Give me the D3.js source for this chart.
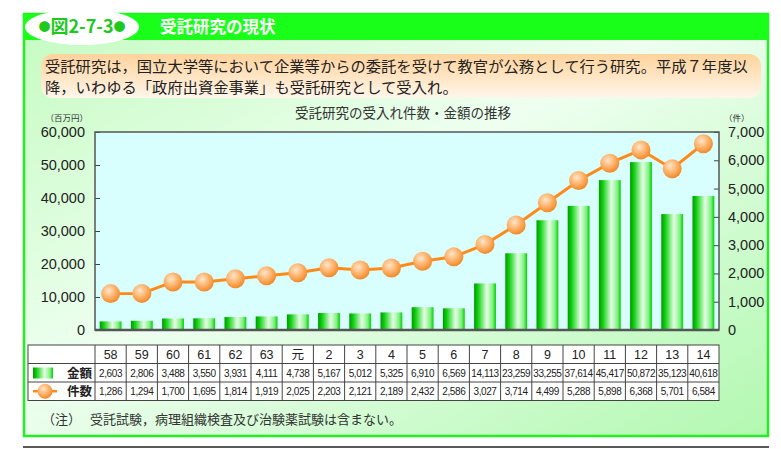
<!DOCTYPE html>
<html>
<head>
<meta charset="utf-8">
<script src="https://cdn.jsdelivr.net/npm/d3@7"></script>
<style>
  body { margin: 0; background: #fff; }
  svg { display: block; }
  text { font-family: "Liberation Sans", Arial, sans-serif; }
  .jp { font-family: "Noto Sans CJK JP", sans-serif; }
</style>
</head>
<body>
<div id="chart"></div>
<script>
// data
var years = ["58","59","60","61","62","63","元","2","3","4","5","6","7","8","9","10","11","12","13","14"];
var amounts = [2603,2806,3488,3550,3931,4111,4738,5167,5012,5325,6910,6569,14113,23259,33255,37614,45417,50872,35123,40618];
var counts = [1286,1294,1700,1695,1814,1919,2025,2203,2121,2189,2432,2586,3027,3714,4499,5288,5898,6368,5701,6584];
var leftTicks = [0,10000,20000,30000,40000,50000,60000];
var rightTicks = [0,1000,2000,3000,4000,5000,6000,7000];

var W = 781, H = 449;
var plot = {l: 95, r: 719, t: 132, b: 330};

var svg = d3.select("#chart").append("svg")
    .attr("width", W)
    .attr("height", H);

var defs = svg.append("defs");

// panel background
var bg = defs.append("linearGradient").attr("id", "panelbg")
    .attr("x1", "0%").attr("y1", "0%").attr("x2", "100%").attr("y2", "100%");
bg.append("stop").attr("offset", "0%").attr("stop-color", "#c4fbc0");
bg.append("stop").attr("offset", "45%").attr("stop-color", "#eefff0");
bg.append("stop").attr("offset", "100%").attr("stop-color", "#b2f8b0");

// description box
var db = defs.append("linearGradient").attr("id", "descbg")
    .attr("x1", "0%").attr("y1", "0%").attr("x2", "0%").attr("y2", "100%");
db.append("stop").attr("offset", "0%").attr("stop-color", "#ffd39c");
db.append("stop").attr("offset", "100%").attr("stop-color", "#fff6ea");

// bars - cylinder look
var bar = defs.append("linearGradient").attr("id", "bargrad")
    .attr("x1", "0%").attr("y1", "0%").attr("x2", "100%").attr("y2", "0%");
bar.append("stop").attr("offset", "0%").attr("stop-color", "#009a00");
bar.append("stop").attr("offset", "18%").attr("stop-color", "#10d010");
bar.append("stop").attr("offset", "58%").attr("stop-color", "#e4ffe4");
bar.append("stop").attr("offset", "85%").attr("stop-color", "#80f080");
bar.append("stop").attr("offset", "100%").attr("stop-color", "#00d000");

// dots
var dot = defs.append("radialGradient").attr("id", "dotgrad")
    .attr("cx", "40%").attr("cy", "35%").attr("r", "65%");
dot.append("stop").attr("offset", "0%").attr("stop-color", "#ffe6cc");
dot.append("stop").attr("offset", "55%").attr("stop-color", "#ffb26a");
dot.append("stop").attr("offset", "100%").attr("stop-color", "#f08a2a");

// frame
svg.append("rect")
    .attr("x", 24).attr("y", 14).attr("width", 744).attr("height", 422)
    .attr("fill", "url(#panelbg)")
    .attr("stroke", "#22ee22").attr("stroke-width", 2.5);

svg.append("rect")
    .attr("x", 23).attr("y", 14).attr("width", 746).attr("height", 26)
    .attr("fill", "#1aff1a");

svg.append("line")
    .attr("x1", 23).attr("x2", 769).attr("y1", 447).attr("y2", 447)
    .attr("stroke", "#222").attr("stroke-width", 1.5);

// header oval + title
svg.append("ellipse")
    .attr("cx", 82).attr("cy", 27).attr("rx", 57).attr("ry", 18)
    .attr("fill", "#fff");
var badge = svg.append("text").attr("class", "jp")
    .attr("x", 82).attr("y", 33).attr("text-anchor", "middle")
    .attr("font-size", 18).attr("font-weight", "bold").attr("fill", "#1fc81f");
badge.append("tspan").attr("font-size", 12).attr("dy", -1).text("●");
badge.append("tspan").attr("dy", 1).text("図2-7-3");
badge.append("tspan").attr("font-size", 12).attr("dy", -1).text("●");
svg.append("text").attr("class", "jp")
    .attr("x", 160).attr("y", 33)
    .attr("font-size", 16.5).attr("font-weight", "bold").attr("fill", "#fff")
    .text("受託研究の現状");

// description
svg.append("rect")
    .attr("x", 41).attr("y", 54).attr("width", 720).attr("height", 44)
    .attr("rx", 12)
    .attr("fill", "url(#descbg)");
svg.append("text").attr("class", "jp")
    .attr("x", 45).attr("y", 72).attr("font-size", 15.3).attr("fill", "#222")
    .text("受託研究は，国立大学等において企業等からの委託を受けて教官が公務として行う研究。平成７年度以");
svg.append("text").attr("class", "jp")
    .attr("x", 45).attr("y", 93).attr("font-size", 15.3).attr("fill", "#222")
    .text("降，いわゆる「政府出資金事業」も受託研究として受入れ。");

// chart title
svg.append("text").attr("class", "jp")
    .attr("x", 403).attr("y", 118).attr("text-anchor", "middle")
    .attr("font-size", 13.5).attr("fill", "#333")
    .text("受託研究の受入れ件数・金額の推移");

// scales
var x = d3.scaleBand().domain(years).range([plot.l, plot.r]).paddingInner(0.3).paddingOuter(0.15);
var xc = d3.scaleBand().domain(years).range([plot.l, plot.r]);
var yL = d3.scaleLinear().domain([0, 60000]).range([plot.b, plot.t]);
var yR = d3.scaleLinear().domain([0, 7000]).range([plot.b, plot.t]);

svg.append("rect")
    .attr("x", plot.l).attr("y", plot.t)
    .attr("width", plot.r - plot.l).attr("height", plot.b - plot.t)
    .attr("fill", "#d8fefe");

// bars
svg.append("g").selectAll("rect")
    .data(amounts)
    .enter().append("rect")
    .attr("x", function(d, i){ return x(years[i]); })
    .attr("y", function(d){ return yL(d); })
    .attr("width", x.bandwidth())
    .attr("height", function(d){ return plot.b - yL(d); })
    .attr("fill", "url(#bargrad)");

// axes - ticks inside the plot
var fmt = d3.format(",");
var axL = svg.append("g")
    .attr("transform", "translate(" + plot.l + ",0)")
    .call(d3.axisRight(yL).tickValues(leftTicks).tickSize(5).tickFormat(""));
axL.select(".domain").remove();
axL.selectAll("line").attr("stroke", "#444");

svg.append("g").selectAll("text")
    .data(leftTicks)
    .enter().append("text")
    .attr("x", 85).attr("y", function(d){ return yL(d) + 5; })
    .attr("text-anchor", "end").attr("font-size", 14.5).attr("fill", "#222")
    .text(fmt);

var axR = svg.append("g")
    .attr("transform", "translate(" + plot.r + ",0)")
    .call(d3.axisLeft(yR).tickValues(rightTicks).tickSize(5).tickFormat(""));
axR.select(".domain").remove();
axR.selectAll("line").attr("stroke", "#444");

svg.append("g").selectAll("text")
    .data(rightTicks)
    .enter().append("text")
    .attr("x", 728).attr("y", function(d){ return yR(d) + 5; })
    .attr("font-size", 14.5).attr("fill", "#222")
    .text(fmt);

svg.append("text").attr("class", "jp")
    .attr("x", 88).attr("y", 121).attr("text-anchor", "end")
    .attr("font-size", 8.5).attr("fill", "#333").text("（百万円）");
svg.append("text").attr("class", "jp")
    .attr("x", 724).attr("y", 121)
    .attr("font-size", 8.5).attr("fill", "#333").text("（件）");

// plot border
svg.append("rect")
    .attr("x", plot.l).attr("y", plot.t)
    .attr("width", plot.r - plot.l).attr("height", plot.b - plot.t)
    .attr("fill", "none").attr("stroke", "#555").attr("stroke-width", 1.5);
svg.append("line")
    .attr("x1", plot.l).attr("x2", plot.r).attr("y1", plot.b).attr("y2", plot.b)
    .attr("stroke", "#555").attr("stroke-width", 2.5);

// line + dots
var line = d3.line()
    .x(function(d, i){ return xc(years[i]) + xc.bandwidth() / 2; })
    .y(function(d){ return yR(d); });

svg.append("path")
    .datum(counts)
    .attr("d", line)
    .attr("fill", "none").attr("stroke", "#ff8a1a").attr("stroke-width", 3);

svg.append("g").selectAll("circle")
    .data(counts)
    .enter().append("circle")
    .attr("cx", function(d, i){ return xc(years[i]) + xc.bandwidth() / 2; })
    .attr("cy", function(d){ return yR(d); })
    .attr("r", 9.5)
    .attr("fill", "url(#dotgrad)");

// data table
var tbl = {l: 28, t: 345, rowH: 18.5};
var tg = svg.append("g");
var rowsY = [tbl.t, tbl.t + tbl.rowH, tbl.t + 2 * tbl.rowH, tbl.t + 3 * tbl.rowH];

tg.append("rect")
    .attr("x", tbl.l).attr("y", tbl.t)
    .attr("width", plot.r - tbl.l).attr("height", 3 * tbl.rowH)
    .attr("fill", "#fff").attr("stroke", "#444").attr("stroke-width", 1);

tg.selectAll("line.h")
    .data(rowsY.slice(1, 3))
    .enter().append("line")
    .attr("x1", tbl.l).attr("x2", plot.r)
    .attr("y1", function(d){ return d; }).attr("y2", function(d){ return d; })
    .attr("stroke", "#444");

tg.selectAll("line.v")
    .data(years)
    .enter().append("line")
    .attr("x1", function(d){ return xc(d); }).attr("x2", function(d){ return xc(d); })
    .attr("y1", tbl.t).attr("y2", tbl.t + 3 * tbl.rowH)
    .attr("stroke", "#444");

tg.selectAll("text.yr")
    .data(years)
    .enter().append("text")
    .attr("class", function(d){ return d === "元" ? "jp" : null; })
    .attr("x", function(d){ return xc(d) + xc.bandwidth() / 2; })
    .attr("y", tbl.t + 14)
    .attr("text-anchor", "middle").attr("font-size", 12.5).attr("fill", "#222")
    .text(function(d){ return d; });

tg.selectAll("text.am")
    .data(amounts)
    .enter().append("text")
    .attr("x", function(d, i){ return xc(years[i]) + xc.bandwidth() / 2; })
    .attr("y", tbl.t + tbl.rowH + 13)
    .attr("text-anchor", "middle").attr("font-size", 10).attr("letter-spacing", -0.4).attr("fill", "#222")
    .text(fmt);

tg.selectAll("text.ct")
    .data(counts)
    .enter().append("text")
    .attr("x", function(d, i){ return xc(years[i]) + xc.bandwidth() / 2; })
    .attr("y", tbl.t + 2 * tbl.rowH + 13)
    .attr("text-anchor", "middle").attr("font-size", 10).attr("letter-spacing", -0.4).attr("fill", "#222")
    .text(fmt);

// legend keys in the table
tg.append("rect")
    .attr("x", 33).attr("y", tbl.t + tbl.rowH + 4)
    .attr("width", 20).attr("height", 11)
    .attr("fill", "url(#bargrad)");
tg.append("text").attr("class", "jp")
    .attr("x", 92).attr("y", tbl.t + tbl.rowH + 14).attr("text-anchor", "end")
    .attr("font-size", 12.5).attr("font-weight", "bold").attr("fill", "#222").text("金額");

tg.append("line")
    .attr("x1", 33).attr("x2", 57)
    .attr("y1", tbl.t + 2.5 * tbl.rowH).attr("y2", tbl.t + 2.5 * tbl.rowH)
    .attr("stroke", "#ff8a1a").attr("stroke-width", 2.5);
tg.append("circle")
    .attr("cx", 45).attr("cy", tbl.t + 2.5 * tbl.rowH).attr("r", 7.5)
    .attr("fill", "url(#dotgrad)");
tg.append("text").attr("class", "jp")
    .attr("x", 92).attr("y", tbl.t + 2 * tbl.rowH + 14).attr("text-anchor", "end")
    .attr("font-size", 12.5).attr("font-weight", "bold").attr("fill", "#222").text("件数");

// note
svg.append("text").attr("class", "jp")
    .attr("x", 42).attr("y", 424).attr("font-size", 13).attr("fill", "#333")
    .text("（注）");
svg.append("text").attr("class", "jp")
    .attr("x", 90).attr("y", 424).attr("font-size", 13).attr("fill", "#333")
    .text("受託試験，病理組織検査及び治験薬試験は含まない。");
</script>
</body>
</html>
